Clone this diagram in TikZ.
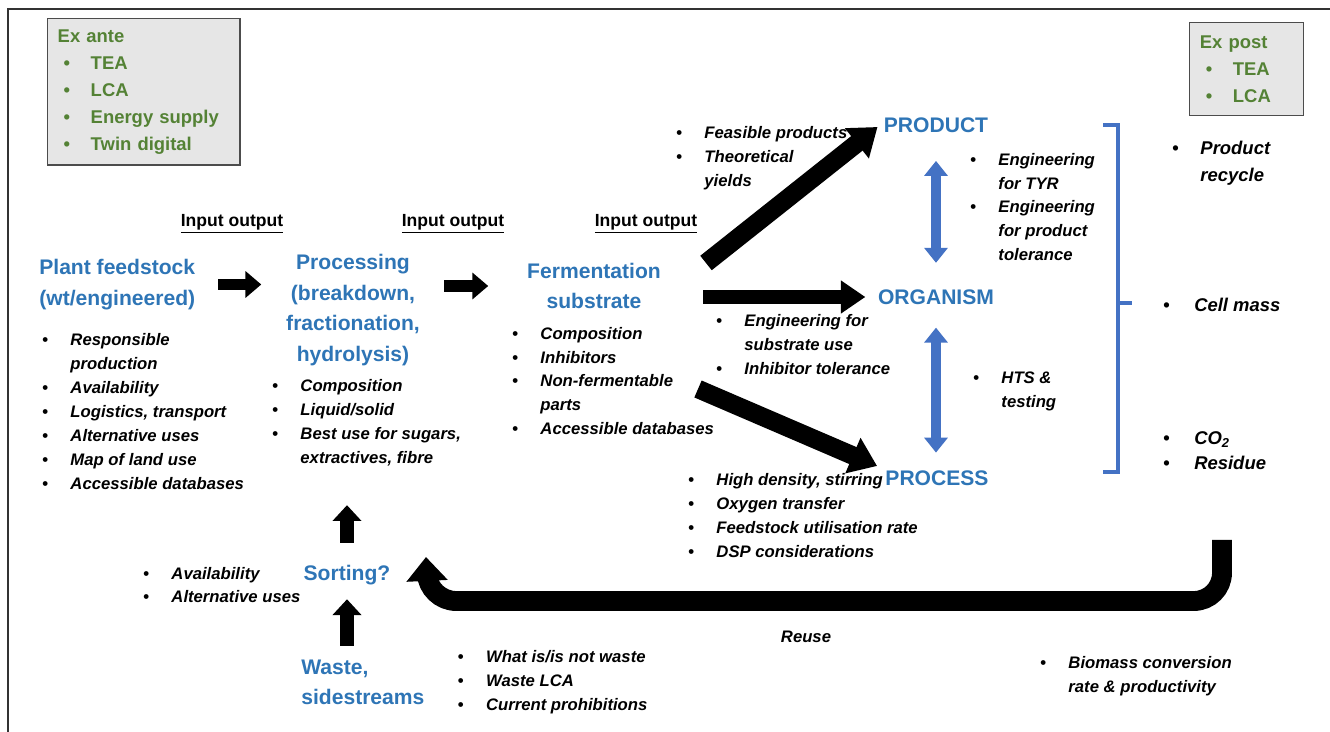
\documentclass[tikz,border=0pt]{standalone}
\usepackage{fontspec}
\setmainfont{Liberation Sans}
\usepackage{tikz}
\usetikzlibrary{arrows.meta,positioning,calc}
\usepackage{xcolor}
\definecolor{hblue}{RGB}{46,117,182}
\definecolor{ablue}{RGB}{68,114,196}
\definecolor{exgreen}{RGB}{84,130,53}
\definecolor{exgray}{RGB}{230,230,230}
\newcommand{\itm}[1]{\makebox[16pt][l]{\upshape\textbullet}#1}
\newcommand{\nxt}[1]{\hspace*{16pt}#1}
\newcommand{\exitm}[1]{\hspace*{3.4pt}\makebox[15.4pt][l]{\textbullet}#1}

\begin{document}
\begin{tikzpicture}[x=0.02cm, y=-0.02cm,
    head/.style={font=\fontsize{12}{17.3}\selectfont\bfseries, text=hblue, inner sep=0},
    lst/.style={font=\fontsize{9.5}{13.6}\selectfont\bfseries\itshape, inner sep=0, align=left, anchor=west},
    big/.style={lst, font=\fontsize{10.5}{15.3}\selectfont\bfseries\itshape},
    io/.style={font=\fontsize{10}{12}\selectfont\bfseries, inner sep=0},
    exbox/.style={draw=black!70, fill=exgray, line width=0.8pt, anchor=north west, inner xsep=5.7pt,
        font=\fontsize{10.5}{15.3}\selectfont\bfseries, text=exgreen, align=left},
    blk/.style={line width=6.8pt, -{Triangle[length=9pt 0 0, width=14.7pt 0 0]}},
    fat/.style={line width=10.5pt, -{Triangle[length=15pt 0 0, width=21pt 0 0]}},
    dbl/.style={ablue, line width=5.7pt, {Triangle[length=8.5pt 0 0, width=13pt 0 0]}-{Triangle[length=8.5pt 0 0, width=13pt 0 0]}},
    brk/.style={ablue, line width=2.8pt}
]
\useasboundingbox (0,0) rectangle (1330,732);
\fill[white] (0,0) rectangle (1330,732);
\draw[black!80, line width=0.9pt] (8,732) -- (8,9) -- (1330,9);

\node[exbox, minimum width=109.4pt, minimum height=83.3pt, text width=98pt] (exante) at (47,18)
    {Ex ante\\\exitm{TEA}\\\exitm{LCA}\\\exitm{Energy supply}\\\exitm{Twin digital}};
\node[exbox, minimum width=64.6pt, minimum height=52.7pt, text width=53pt] (expost) at (1189,22)
    {Ex post\\\exitm{TEA}\\\exitm{LCA}};

\node[io] (io1) at (232,224) {\underline{Input output}};
\node[io] (io2) at (453,224) {\underline{Input output}};
\node[io] (io3) at (646,224) {\underline{Input output}};

\node[head, align=left, anchor=west] (plant) at (39,284.5) {Plant feedstock\\(wt/engineered)};
\node[head, align=center] (proc) at (353,310) {Processing\\(breakdown,\\fractionation,\\hydrolysis)};
\node[head, align=center] (ferm) at (594,286) {Fermentation\\substrate};
\node[head] (product) at (936,125) {PRODUCT};
\node[head] (organism) at (936,297) {ORGANISM};
\node[head] (process) at (937,478) {PROCESS};
\node[head] (sorting) at (347,575) {Sorting?};
\node[head, align=left, anchor=west] (waste) at (301,682.5) {Waste,\\sidestreams};

\node[lst] (plantl) at (42,411.5) {\itm{Responsible}\\\nxt{production}\\\itm{Availability}\\\itm{Logistics, transport}\\\itm{Alternative uses}\\\itm{Map of land use}\\\itm{Accessible databases}};
\node[lst] (procl) at (272,423) {\itm{Composition}\\\itm{Liquid/solid}\\\itm{Best use for sugars,}\\\nxt{extractives, fibre}};
\node[lst] (ferml) at (512,381) {\itm{Composition}\\\itm{Inhibitors}\\\itm{Non-fermentable}\\\nxt{parts}\\\itm{Accessible databases}};
\node[lst] (feasl) at (676,158) {\itm{Feasible products}\\\itm{Theoretical}\\\nxt{yields}};
\node[lst] (prodl) at (970,207) {\itm{Engineering}\\\nxt{for TYR}\\\itm{Engineering}\\\nxt{for product}\\\nxt{tolerance}};
\node[lst] (orgl) at (716,344.5) {\itm{Engineering for}\\\nxt{substrate use}\\\itm{Inhibitor tolerance}};
\node[lst] (htsl) at (973,391.5) {\itm{HTS \&}\\\nxt{testing}};
\node[lst] (procsl) at (688,515.5) {\itm{High density, stirring}\\\itm{Oxygen transfer}\\\itm{Feedstock utilisation rate}\\\itm{DSP considerations}};
\node[lst] (sortl) at (143,585) {\itm{Availability}\\\itm{Alternative uses}};
\node[lst, right=18.7pt of waste] (wastel) {\itm{What is/is not waste}\\\itm{Waste LCA}\\\itm{Current prohibitions}};
\node[lst] (biol) at (1040,676.5) {\itm{Biomass conversion}\\\nxt{rate \& productivity}};
\node[lst, anchor=center] (reuse) at (806,637) {Reuse};

\node[big] (recyl) at (1172,163.5) {\itm{Product}\\\nxt{recycle}};
\node[big] (celll) at (1163,305) {\makebox[17.6pt][l]{\upshape\textbullet}Cell mass};
\node[big, font=\fontsize{10.5}{14.2}\selectfont\bfseries\itshape] (co2l) at (1163,450.5)
    {\makebox[17.6pt][l]{\upshape\textbullet}CO\textsubscript{2}\\\makebox[17.6pt][l]{\upshape\textbullet}Residue};

\draw[blk, shorten <=13pt, shorten >=14pt] (plant.east) -- (plant.east -| proc.west);
\draw[blk, shorten <=13.6pt, shorten >=22pt] (proc.east |- ferm.west) -- (ferm.west);
\coordinate (fp) at (706,263);
\coordinate (fq) at (698,389);
\draw[fat] (fp) -- ([shift={(-6,2)}]product.west);
\draw[fat, line width=8.5pt, -{Triangle[length=14pt 0 0, width=18pt 0 0]}, shorten <=24pt, shorten >=7pt]
    (ferm.east |- organism.west) -- (organism.west);
\draw[fat] (fq) -- ([shift={(-8,-12)}]process.west);

\draw[dbl, shorten <=16pt, shorten >=15pt] (product.south) -- (organism.north);
\draw[dbl, shorten <=13pt, shorten >=10pt] (organism.south) -- (organism.south |- process.north);

\draw[brk] (1103,125) -- (1118,125) -- (1118,472) -- (1103,472);
\draw[brk] (1118,303) -- (1132,303);

\draw[blk, line width=8pt, -{Triangle[length=9pt 0 0, width=16pt 0 0]}, shorten <=12.5pt, shorten >=22pt]
    (sorting.north) -- (sorting.north |- procl.south);
\draw[blk, line width=8pt, -{Triangle[length=9pt 0 0, width=16pt 0 0]}, shorten <=8pt, shorten >=8pt]
    (sorting.south |- waste.north) -- (sorting.south);

\coordinate (rs) at (1222,540);
\coordinate (rt) at (426,557);
\draw[line width=11.3pt, rounded corners=16pt, -{Triangle[length=13.6pt 0 0, width=22.7pt 0 0]}]
    (rs) -- (1222,601) -- (428,601) -- (rt);
\end{tikzpicture}
\end{document}
